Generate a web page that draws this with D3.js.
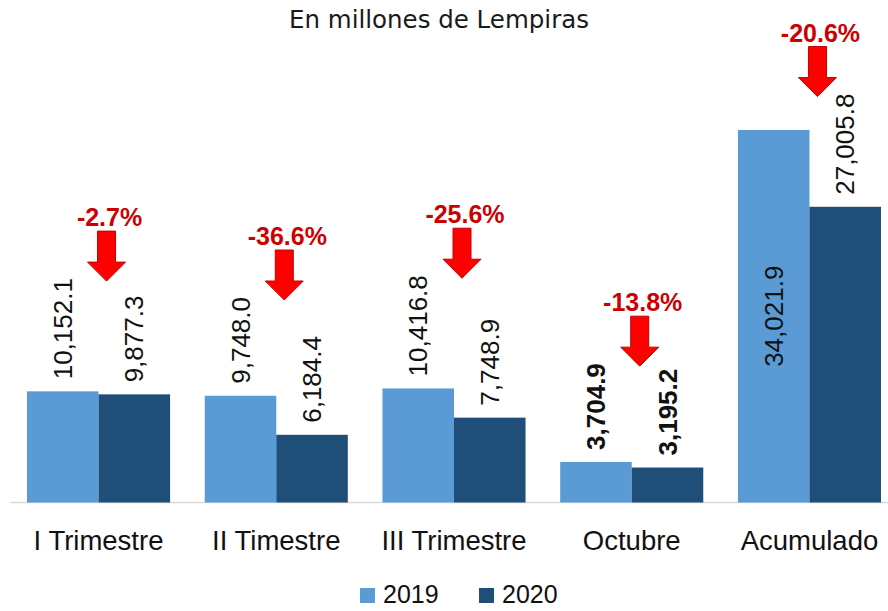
<!doctype html>
<html>
  <head>
    <script src="https://cdnjs.cloudflare.com/ajax/libs/d3/7.8.5/d3.min.js"></script>
    <style>
      body { margin: 0; background: #fff; }
      text { font-family: "Liberation Sans", Arial, sans-serif; }
    </style>
  </head>
  <body>
    <svg id="chart" width="888" height="611"></svg>
    <script>
        // datos
        var categories = ["I Trimestre", "II Timestre", "III Trimestre", "Octubre", "Acumulado"];
        var values2019 = [10152.1, 9748.0, 10416.8, 3704.9, 34021.9];
        var values2020 = [9877.3, 6184.4, 7748.9, 3195.2, 27005.8];
        var pctChange = [-2.7, -36.6, -25.6, -13.8, -20.6];
        var seriesNames = ["2019", "2020"];
        var boldCategory = "Octubre";

        var colors = ["#5b9bd5", "#1f4e79"];
        var svg = d3.select("#chart");

        var x = d3.scaleBand()
            .domain(categories)
            .range([27, 881])
            .paddingInner(0.195)
            .paddingOuter(0);

        var x1 = d3.scaleBand()
            .domain(seriesNames)
            .range([0, x.bandwidth()]);

        var y = d3.scaleLinear()
            .domain([0, 40000])
            .range([502.5, 64.5]);

        var fmt = d3.format(",.1f");

        var rows = categories.map((c, i) => ({
            cat: c,
            vals: [values2019[i], values2020[i]],
            pct: pctChange[i]
        }));

        // titulo
        svg.append("text")
            .attr("x", 439)
            .attr("y", 28)
            .attr("text-anchor", "middle")
            .style("font-family", "'DejaVu Sans', sans-serif")
            .style("font-size", "24.5px")
            .attr("fill", "#1a1a1a")
            .text("En millones de Lempiras");

        // linea base
        svg.append("line")
            .attr("x1", 10).attr("x2", 888)
            .attr("y1", y(0)).attr("y2", y(0))
            .attr("stroke", "#d9d9d9")
            .attr("stroke-width", 1.5);

        var groups = svg.selectAll("g.grp")
            .data(rows)
            .enter()
            .append("g")
                .attr("class", "grp")
                .attr("transform", d => "translate(" + x(d.cat) + ",0)");

        groups.selectAll("rect")
            .data(d => d.vals.map((v, j) => ({ v: v, s: seriesNames[j], j: j })))
            .enter()
            .append("rect")
                .attr("x", d => x1(d.s))
                .attr("y", d => y(d.v))
                .attr("width", x1.bandwidth())
                .attr("height", d => y(0) - y(d.v))
                .attr("fill", d => colors[d.j]);

        // etiquetas de valor, rotadas
        var gap = 12;
        groups.each(function(d) {
            var g = d3.select(this);
            var tops = [];
            d.vals.forEach((v, j) => {
                var cx = x1(seriesNames[j]) + x1.bandwidth() / 2;
                var t = g.append("text")
                    .attr("dy", "0.35em")
                    .style("font-size", "26px")
                    .style("font-weight", d.cat === boldCategory ? "bold" : "normal")
                    .attr("fill", "#111")
                    .text(fmt(v));
                var len = t.node().getComputedTextLength();
                var top = y(v) - gap - len;
                if (top < 60) {
                    // no cabe arriba: va centrada dentro de la barra
                    t.attr("text-anchor", "middle")
                     .attr("transform", "translate(" + cx + "," + (y(v) + y(0)) / 2 + ") rotate(-90)");
                } else {
                    t.attr("text-anchor", "start")
                     .attr("transform", "translate(" + cx + "," + (y(v) - gap) + ") rotate(-90)");
                    tops.push(top);
                }
            });

            // flecha y porcentaje
            var ax = x.bandwidth() / 2 + 8;
            var tip = d3.min(tops) + 3;
            var topA = tip - 50, hs = tip - 19;
            var arrow = d3.path();
            arrow.moveTo(ax - 9, topA);
            arrow.lineTo(ax + 9, topA);
            arrow.lineTo(ax + 9, hs);
            arrow.lineTo(ax + 19, hs);
            arrow.lineTo(ax, tip);
            arrow.lineTo(ax - 19, hs);
            arrow.lineTo(ax - 9, hs);
            arrow.closePath();
            g.append("path")
                .attr("d", arrow.toString())
                .attr("fill", "#ff0000")
                .attr("stroke", "#c00000")
                .attr("stroke-width", 1);

            g.append("text")
                .attr("x", ax + 3)
                .attr("y", topA - 5)
                .attr("text-anchor", "middle")
                .style("font-size", "25px")
                .style("font-weight", "bold")
                .attr("fill", "#cc0000")
                .text(d.pct.toFixed(1) + "%");
        });

        // eje de categorias
        svg.selectAll("text.cat")
            .data(categories)
            .enter()
            .append("text")
                .attr("class", "cat")
                .attr("x", d => x(d) + x.bandwidth() / 2)
                .attr("y", 550)
                .attr("text-anchor", "middle")
                .style("font-size", "27.5px")
                .attr("fill", "#111")
                .text(d => d);

        // leyenda
        var leg = svg.selectAll("g.leg")
            .data(seriesNames)
            .enter()
            .append("g")
                .attr("class", "leg")
                .attr("transform", (d, i) => "translate(" + (360 + i * 119) + ",588)");
        leg.append("rect")
            .attr("width", 15).attr("height", 15)
            .attr("fill", (d, i) => colors[i]);
        leg.append("text")
            .attr("x", 23)
            .attr("y", 15)
            .style("font-size", "25px")
            .attr("fill", "#111")
            .text(d => d);
    </script>
  </body>
</html>
